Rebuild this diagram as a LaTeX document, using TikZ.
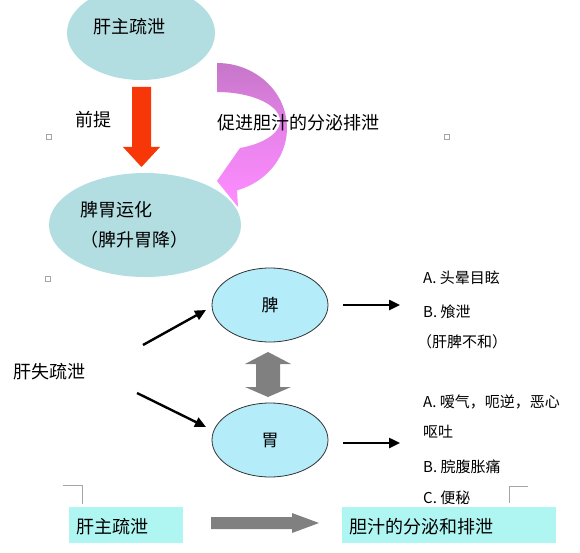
\documentclass[tikz,border=0pt]{standalone}
\usepackage{fontspec}
\setmainfont{Noto Sans CJK SC}
\usetikzlibrary{shapes.geometric,arrows.meta}
\definecolor{topell}{RGB}{178,222,226}
\definecolor{lowell}{RGB}{180,236,250}
\definecolor{boxcyan}{RGB}{175,245,242}
\definecolor{redarr}{RGB}{248,55,8}
\definecolor{pinkA}{RGB}{198,118,200}
\definecolor{pinkM}{RGB}{232,132,236}
\definecolor{pinkB}{RGB}{255,140,255}
\definecolor{grayarr}{RGB}{128,128,128}
\definecolor{markgray}{RGB}{165,165,165}
\begin{document}
\begin{tikzpicture}[x=1pt,y=-1pt,
  bigell/.style={ellipse,fill=topell,inner sep=0pt},
  smallell/.style={ellipse,fill=lowell,draw=black!80,line width=0.8pt,inner sep=0pt,
    minimum width=116pt,minimum height=74pt,font=\fontsize{17}{17}\selectfont},
  txt/.style={anchor=west,inner sep=0pt,font=\fontsize{18}{18}\selectfont},
  lst/.style={anchor=west,inner sep=0pt,font=\fontsize{15}{15}\selectfont},
  boxc/.style={fill=boxcyan,inner sep=0pt,minimum height=36pt},
  blk/.style={line width=2.4pt,-{Triangle[length=11pt,width=10pt]}},
  anchormark/.style={draw=markgray,line width=0.6pt},
  corner/.style={draw=markgray,line width=0.9pt}]
\useasboundingbox (0,0) rectangle (580,553);
\clip (0,0) rectangle (580,553);
\fill[white] (0,0) rectangle (580,553);

% top ellipses
\node[bigell,minimum width=148pt,minimum height=94pt] (e1) at (141,33) {};
\node[bigell,minimum width=192pt,minimum height=104pt] (e2) at (145,225) {};
\node[txt] (t1) at (93,27) {肝主疏泄};
\node[txt] (t2a) at (80,210) {脾胃运化};
\node[txt] (t2b) at (80,240) {（脾升胃降）};

% red block arrow
\fill[redarr] (132,87) -- (151,87) -- (151,147) -- (160,147) -- (141.5,167)
  -- (123,147) -- (132,147) -- cycle;
\node[txt] (qt) at (75,120) {前提};

% pink curved arrow
\path[top color=pinkA,bottom color=pinkB,middle color=pinkM]
  (217,63) -- plot[domain=-90:73.4,samples=50,variable=\t]
      ({217+70*cos(\t)},{128+65*sin(\t)})
  -- (238,207) -- (217,181) -- (240,148)
  -- plot[domain=68:-90,samples=50,variable=\t]
      ({217+63*cos(\t)},{121+29*sin(\t)})
  -- cycle;
\node[txt] (cj) at (217,123) {促进胆汁的分泌排泄};

% anchor marks
\foreach \p in {(49,137),(447,137),(48,279),(248,279)}
  \draw[anchormark] \p ++(-2.5,-2.5) rectangle ++(5,5);

% middle part
\node[smallell] (pi) at (270,305) {脾};
\node[smallell] (wei) at (270,440) {胃};
\node[txt] (gs) at (13,372) {肝失疏泄};

\coordinate (a1s) at (143,345);
\coordinate (a1e) at (206,310);
\coordinate (a2s) at (137,393);
\coordinate (a2e) at (206,427);
\draw[blk] (a1s) -- (a1e);
\draw[blk] (a2s) -- (a2e);
\coordinate (r1s) at (343,305);
\coordinate (r1e) at (400,305);
\coordinate (r2s) at (343,443);
\coordinate (r2e) at (400,443);
\draw[blk] (r1s) -- (r1e);
\draw[blk] (r2s) -- (r2e);

% gray double arrow
\fill[grayarr] (268,352) -- (291,364) -- (280,364) -- (280,387) -- (291,387)
  -- (268,397) -- (245,387) -- (256,387) -- (256,364) -- (245,364) -- cycle;

% lists
\node[lst] (l1) at (423,278) {A. 头晕目眩};
\node[lst] (l2) at (423,312) {B. 飧泄};
\node[lst] (l3) at (417,342) {（肝脾不和）};
\node[lst] (m1) at (423,402) {A. 嗳气，呃逆，恶心};
\node[lst] (m2) at (423,432) {呕吐};
\node[lst] (m3) at (423,467) {B. 脘腹胀痛};
\node[lst] (m4) at (423,498) {C. 便秘};

% corner marks
\draw[corner] (63,485) -- (82,485) -- (82,504);
\draw[corner] (528,486) -- (509,486) -- (509,503);

% bottom boxes
\node[boxc,minimum width=114pt] (b1) at (126,525) {};
\node[boxc,minimum width=214pt] (b2) at (449,525) {};
\node[txt] at (76,527) {肝主疏泄};
\node[txt] at (349,527) {胆汁的分泌和排泄};
\fill[grayarr] (211,517) -- (292,517) -- (292,513) -- (319,523) -- (292,533)
  -- (292,529) -- (211,529) -- cycle;
\end{tikzpicture}
\end{document}
